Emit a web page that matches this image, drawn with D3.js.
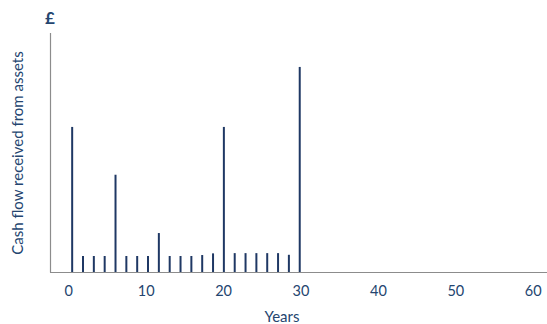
<!DOCTYPE html>
<html><head><meta charset="utf-8">
<script src="https://cdn.jsdelivr.net/npm/d3@7"></script>
<style>body{margin:0;background:#fff}svg{display:block}</style>
</head><body><svg id="c" width="547" height="324"></svg>
<script>
const years = [0.5, 1.9, 3.3, 4.7, 6.1, 7.5, 8.9, 10.3, 11.7, 13.1, 14.5, 15.9, 17.3, 18.7, 20.1, 21.5, 22.9, 24.3, 25.7, 27.1, 28.5, 29.9];
const cashFlows = [60.7, 6.7, 6.7, 6.7, 40.7, 6.7, 6.7, 6.7, 16.3, 6.7, 6.7, 6.7, 7.1, 7.8, 60.7, 7.9, 7.9, 7.9, 7.9, 7.9, 7.2, 85.8];
const xTicks = [0, 10, 20, 30, 40, 50, 60];
const xLabel = "Years";
const yLabel = "Cash flow received from assets";
const yUnit = "£";

const svg = d3.select("#c");
const navy = "#1f3864", textCol = "#24456f", axisCol = "#8c8c8c";
const x = d3.scaleLinear().domain([0, 60]).range([68.3, 532.7]);
const y = d3.scaleLinear().domain([0, 100]).range([272, 33]);

svg.append("g").selectAll("line").data(years).join("line")
  .attr("x1", d => x(d)).attr("x2", d => x(d))
  .attr("y1", y(0)).attr("y2", (d, i) => y(cashFlows[i]))
  .attr("stroke", navy).attr("stroke-width", 2);

// axes
svg.append("line").attr("x1", 50.5).attr("x2", 50.5).attr("y1", 33).attr("y2", 272.5)
  .attr("stroke", axisCol).attr("stroke-width", 1.2);
svg.append("line").attr("x1", 50).attr("x2", 547).attr("y1", 272.5).attr("y2", 272.5)
  .attr("stroke", axisCol).attr("stroke-width", 1.2);

const xAxis = d3.axisBottom(x).tickValues(xTicks).tickSize(0).tickPadding(0);
const gx = svg.append("g").attr("transform", "translate(0,272)").call(xAxis);
gx.select(".domain").remove();
gx.selectAll("text").attr("font-family", "Lato, sans-serif").attr("font-size", 14.5)
  .attr("fill", textCol).attr("dy", null).attr("y", 24);

svg.append("text").attr("x", 282).attr("y", 322).attr("text-anchor", "middle")
  .attr("font-family", "Lato, sans-serif").attr("font-size", 15).attr("fill", textCol).text(xLabel);
svg.append("text").attr("transform", "translate(23,153) rotate(-90)").attr("text-anchor", "middle")
  .attr("font-family", "Lato, sans-serif").attr("font-size", 15).attr("fill", textCol).text(yLabel);
svg.append("text").attr("x", 50).attr("y", 24).attr("text-anchor", "middle")
  .attr("font-family", "Lato, sans-serif").attr("font-weight", "bold").attr("font-size", 17).attr("fill", textCol).text(yUnit);
</script></body></html>
